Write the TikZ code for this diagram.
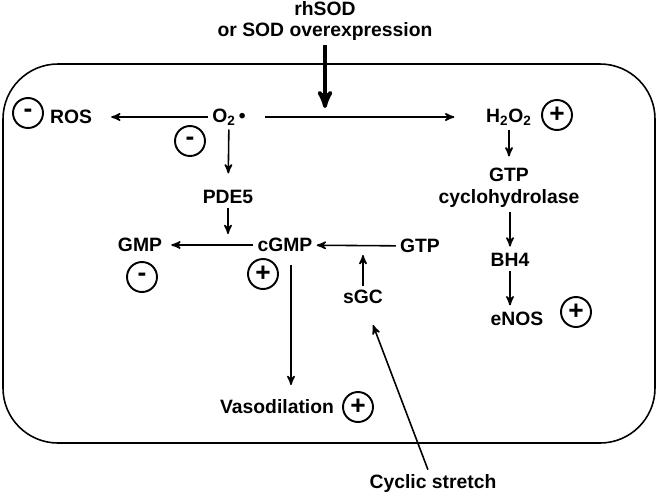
\documentclass[tikz,border=0pt]{standalone}
\usepackage{fontspec}
\setmainfont{Liberation Sans}
\usetikzlibrary{positioning,arrows}

\begin{document}
\begin{tikzpicture}[x=0.02cm, y=-0.02cm, ->, >=stealth', line width=0.9pt,
  every node/.style={font=\bfseries\fontsize{11}{12.5}\selectfont, inner sep=2pt},
  signnode/.style={circle, draw=black, line width=1.1pt, minimum size=0.6cm, inner sep=0pt,
    font=\bfseries\fontsize{15}{15}\selectfont}]
  \useasboundingbox (0,0) rectangle (660,495);
  \draw[-, rounded corners=1.1cm] (3,64) rectangle (655,443);

  \node[align=center] (sod) at (325,21) {rhSOD\\or SOD overexpression};
  \node (o2) at (229,117) {O\textsubscript{2}\,\textbullet};
  \node (ros) at (71,117) {ROS};
  \node[signnode] (rosminus) at (28,113) {-};
  \node[signnode] (o2minus) at (190,141) {-};
  \node (pde5) at (228,197) {PDE5};
  \node (cgmp) at (285,245) {cGMP};
  \node[signnode] (cgmpplus) at (263,274) {+};
  \node (gmp) at (140,245) {GMP};
  \node[signnode] (gmpminus) at (142,277) {-};
  \node (gtp) at (420,246) {GTP};
  \node (sgc) at (363,297) {sGC};
  \node (vaso) at (277,407) {Vasodilation};
  \node[signnode] (vasoplus) at (358,407) {+};
  \node (stretch) at (433,483) {Cyclic stretch};
  \node (h2o2) at (509,117) {H\textsubscript{2}O\textsubscript{2}};
  \node[signnode] (h2o2plus) at (557,115) {+};
  \node[align=center] (gtpch) at (509,188) {GTP\\cyclohydrolase};
  \node (bh4) at (510,260) {BH4};
  \node (enos) at (517,319) {eNOS};
  \node[signnode] (enosplus) at (576,312) {+};

  \coordinate (sodhit) at (325,108);
  \coordinate (pdehit) at (228,234);
  \coordinate (sgchit) at (363,255);
  \coordinate (sgctip) at (373,325);
  \coordinate (vasotop) at (291,265);
  \coordinate (vasotip) at (291,385);

  \draw[line width=2.2pt] (sod) -- (sodhit);
  \path
    (o2) edge[shorten >=0.3cm] (ros)
    (o2) edge[shorten <=0.3cm, shorten >=0.55cm] (h2o2)
    (o2) edge[shorten >=0.25cm] (pde5)
    (pde5) edge (pdehit)
    (cgmp) edge[shorten >=0.1cm] (gmp)
    (gtp) edge (cgmp)
    (sgc) edge (sgchit)
    (vasotop) edge (vasotip)
    (h2o2) edge[shorten >=0.15cm] (gtpch)
    (gtpch.south -| bh4) edge[shorten >=0.05cm] (bh4)
    (bh4) edge[shorten >=0.05cm] (bh4 |- enos.north);
  \path (stretch) edge (sgctip);
\end{tikzpicture}
\end{document}
